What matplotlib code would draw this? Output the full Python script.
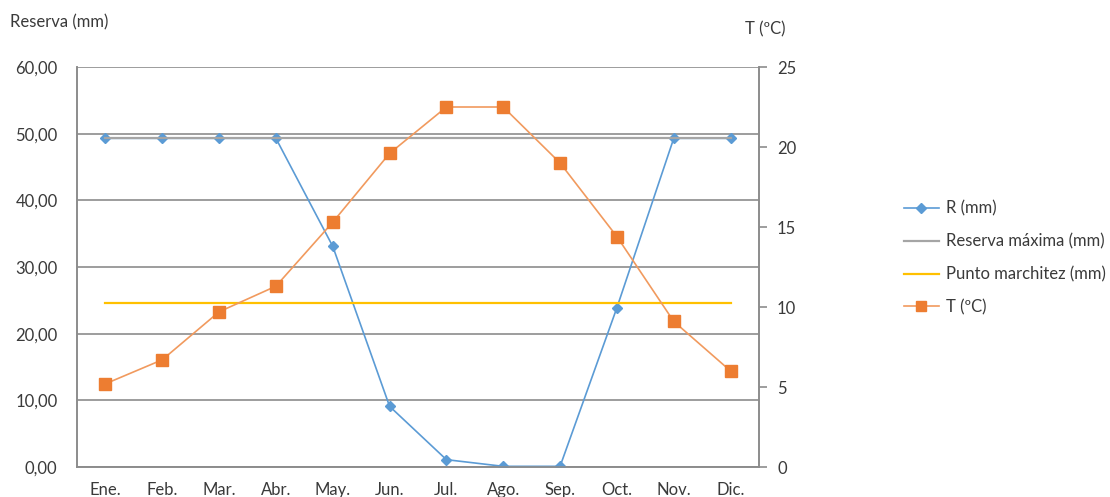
import matplotlib
matplotlib.use("Agg")
import matplotlib.pyplot as plt
from matplotlib.ticker import FuncFormatter, MultipleLocator

plt.rcParams['font.family'] = ['Lato', 'DejaVu Sans']

months = ["Ene.", "Feb.", "Mar.", "Abr.", "May.", "Jun.",
          "Jul.", "Ago.", "Sep.", "Oct.", "Nov.", "Dic."]
reserva_r = [49.3, 49.3, 49.3, 49.3, 33.1, 9.1, 1.1, 0.1, 0.1, 23.9, 49.3, 49.3]
reserva_max = [49.3] * 12
punto_marchitez = [24.65] * 12
temperatura = [5.2, 6.7, 9.7, 11.3, 15.3, 19.6, 22.5, 22.5, 19.0, 14.4, 9.1, 6.0]

BLUE = "#5B9BD5"
ORANGE = "#ED7D31"
ORANGE_LINE = "#F19A5E"
GRAY = "#A5A5A5"
YELLOW = "#FFC000"
AXIS = "#8C8C8C"
TEXT = "#3A3A3A"
FS = 12

fig = plt.figure(figsize=(11.10, 4.97), dpi=100)
ax = fig.add_axes([77 / 1110, 1 - 467 / 497, (759 - 77) / 1110, (467 - 67) / 497])
ax2 = ax.twinx()

x = list(range(len(months)))

l1, = ax.plot(x, reserva_r, color=BLUE, lw=1.2, marker="D", ms=5.5,
              label="R (mm)", zorder=3)
l2, = ax.plot(x, reserva_max, color=GRAY, lw=1.6, label="Reserva máxima (mm)", zorder=4)
l3, = ax.plot(x, punto_marchitez, color=YELLOW, lw=1.6, label="Punto marchitez (mm)", zorder=4)
l4, = ax2.plot(x, temperatura, color=ORANGE_LINE, lw=1.2, marker="s", ms=8,
               mfc=ORANGE, mec=ORANGE, label="T (ºC)", zorder=5)

ax.set_xlim(-0.5, 11.5)
ax.set_ylim(0, 60)
ax2.set_ylim(0, 25)

ax.yaxis.set_major_locator(MultipleLocator(10))
ax.yaxis.set_major_formatter(FuncFormatter(lambda v, p: f"{v:.2f}".replace(".", ",")))
ax2.yaxis.set_major_locator(MultipleLocator(5))

ax.set_xticks(x)
ax.set_xticklabels(months)

ax.grid(axis="y", color=AXIS, lw=1.2, zorder=0)
ax.set_axisbelow(True)

for a in (ax, ax2):
    a.spines["top"].set_visible(False)
    for side in ("left", "right", "bottom"):
        a.spines[side].set_color(AXIS)
        a.spines[side].set_linewidth(1.2)

ax.tick_params(axis="y", length=0, pad=14, labelsize=FS, labelcolor=TEXT)
ax.tick_params(axis="x", length=0, pad=11, labelsize=FS, labelcolor=TEXT)
ax2.tick_params(axis="y", length=6, width=1.2, color=AXIS, pad=7,
                labelsize=FS, labelcolor=TEXT)

fig.text(10 / 1110, 1 - 22 / 497, "Reserva (mm)", fontsize=FS, color=TEXT,
         va="center", ha="left")
fig.text(745 / 1110, 1 - 29 / 497, "T (ºC)", fontsize=FS, color=TEXT,
         va="center", ha="left")

leg = fig.legend(handles=[l1, l2, l3, l4], loc="center left",
                 bbox_to_anchor=(892 / 1110, 1 - 258 / 497), frameon=False,
                 fontsize=FS, labelcolor=TEXT, handlelength=2.1,
                 handletextpad=0.45, labelspacing=1.0, markerscale=0.9,
                 borderpad=0.2)

fig.savefig("out.png", dpi=100)
